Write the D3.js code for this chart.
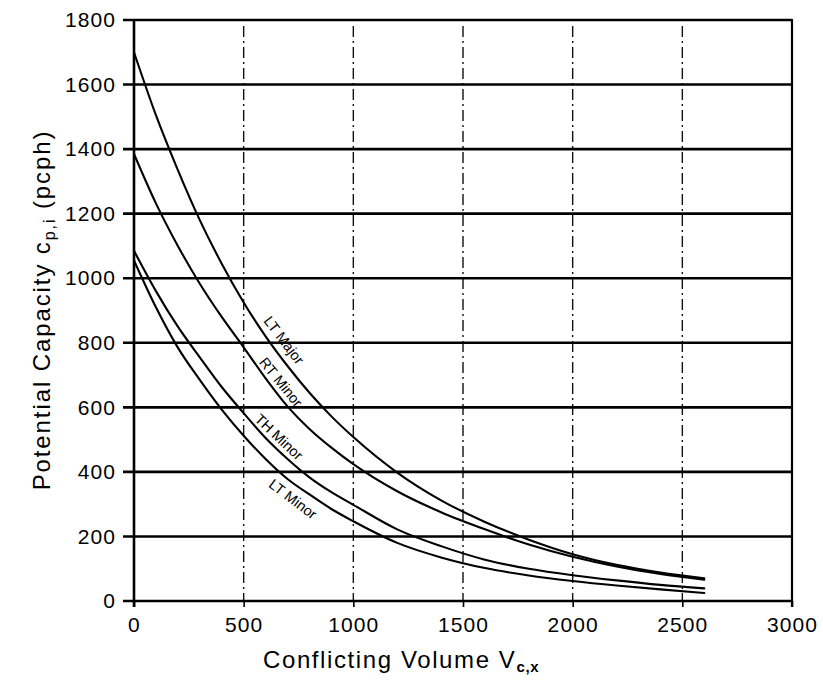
<!DOCTYPE html>
<html>
<head>
<meta charset="utf-8">
<script src="https://cdn.jsdelivr.net/npm/d3@7/dist/d3.min.js"></script>
<style>
  html, body { margin: 0; padding: 0; background: #fff; }
  svg { display: block; }
  text { font-family: "Liberation Sans", Arial, Helvetica, sans-serif; fill: #000; }
</style>
</head>
<body>
<svg id="chart" width="823" height="697"></svg>
<script>
// Conflicting volume (veh/h) at which each capacity curve is tabulated
const volumes = [0, 100, 200, 300, 400, 500, 600, 700, 800, 900, 1000,
                 1200, 1400, 1600, 1800, 2000, 2200, 2400, 2600];

// Potential capacity (pcph) for each movement
const ltMajor = [1700, 1505, 1335, 1180, 1045, 925, 820, 728, 645, 572, 508,
                 398, 312, 245, 190, 145, 112, 88, 70];
const rtMinor = [1385, 1232, 1100, 983, 880, 786, 690, 603, 533, 475, 424,
                 340, 275, 222, 175, 137, 107, 84, 66];
const thMinor = [1085, 960, 850, 755, 663, 582, 505, 440, 383, 337, 298,
                 222, 170, 128, 100, 80, 64, 50, 39];
const ltMinor = [1055, 910, 785, 685, 593, 512, 440, 378, 330, 285, 247,
                 180, 135, 102, 79, 62, 48, 36, 25];

const seriesNames = ["LT Major", "RT Minor", "TH Minor", "LT Minor"];
const seriesValues = [ltMajor, rtMinor, thMinor, ltMinor];

// Centre of each curve's name, in chart units (volume, capacity)
const labelAt = [
  { name: "LT Major", v: 684, c: 808 },
  { name: "RT Minor", v: 670, c: 678 },
  { name: "TH Minor", v: 661, c: 508 },
  { name: "LT Minor", v: 725, c: 316 }
];

const xTicks = [0, 500, 1000, 1500, 2000, 2500, 3000];
const yTicks = [0, 200, 400, 600, 800, 1000, 1200, 1400, 1600, 1800];

const svg = d3.select("#chart");
svg.append("rect").attr("width", 823).attr("height", 697).attr("fill", "#fff");

const x = d3.scaleLinear().domain([0, 3000]).range([134, 792]);
const y = d3.scaleLinear().domain([0, 1800]).range([601, 20]);

// vertical dash-dot grid lines
svg.append("g")
  .selectAll("line")
  .data(xTicks.filter(d => d > 0 && d < 3000))
  .join("line")
  .attr("x1", d => x(d)).attr("x2", d => x(d))
  .attr("y1", y(1800) + 6).attr("y2", y(0))
  .attr("stroke", "#111")
  .attr("stroke-width", 1.4)
  .attr("stroke-dasharray", "11,4,2,4");

// heavy horizontal grid lines
svg.append("g")
  .selectAll("line")
  .data(yTicks)
  .join("line")
  .attr("x1", x(0) - 11).attr("x2", x(3000))
  .attr("y1", d => y(d)).attr("y2", d => y(d))
  .attr("stroke", "#000")
  .attr("stroke-width", 2.6);

// frame: left axis and right border
svg.append("line")
  .attr("x1", x(0)).attr("x2", x(0))
  .attr("y1", y(1800) - 1).attr("y2", y(0) + 6)
  .attr("stroke", "#000").attr("stroke-width", 2.6);
svg.append("line")
  .attr("x1", x(3000)).attr("x2", x(3000))
  .attr("y1", y(1800) - 1).attr("y2", y(0) + 6)
  .attr("stroke", "#000").attr("stroke-width", 2.2);

// x axis ticks and labels
const xAxis = d3.axisBottom(x).tickValues(xTicks).tickSize(6).tickPadding(10)
  .tickFormat(d3.format("d"));
const gx = svg.append("g").attr("transform", `translate(0,${y(0)})`).call(xAxis);
gx.select(".domain").remove();
gx.selectAll(".tick line").attr("stroke", "#000").attr("stroke-width", 1.6);
gx.selectAll(".tick text")
  .attr("font-size", 21).attr("letter-spacing", 1.1)
  .attr("font-family", "Liberation Sans, Arial, sans-serif");

// y axis labels
const yAxis = d3.axisLeft(y).tickValues(yTicks).tickSize(0).tickPadding(18)
  .tickFormat(d3.format("d"));
const gy = svg.append("g").attr("transform", `translate(${x(0)},0)`).call(yAxis);
gy.select(".domain").remove();
gy.selectAll(".tick text")
  .attr("font-size", 21).attr("letter-spacing", 1.1)
  .attr("font-family", "Liberation Sans, Arial, sans-serif");

// capacity curves
const line = d3.line()
  .x(d => x(d[0]))
  .y(d => y(d[1]))
  .curve(d3.curveMonotoneX);

svg.append("g")
  .selectAll("path")
  .data(seriesValues)
  .join("path")
  .attr("d", vals => line(volumes.map((v, i) => [v, vals[i]])))
  .attr("fill", "none")
  .attr("stroke", "#000")
  .attr("stroke-width", 2.1)
  .attr("stroke-linecap", "round");

// curve names, rotated to follow the local slope of each curve
function valueAt(vals, v) {
  const i = d3.bisectRight(volumes, v) - 1;
  const j = Math.min(i + 1, volumes.length - 1);
  const t = (v - volumes[i]) / (volumes[j] - volumes[i] || 1);
  return vals[i] + t * (vals[j] - vals[i]);
}
labelAt.forEach(lab => {
  const vals = seriesValues[seriesNames.indexOf(lab.name)];
  const dx = x(lab.v + 50) - x(lab.v - 50);
  const dy = y(valueAt(vals, lab.v + 50)) - y(valueAt(vals, lab.v - 50));
  const ang = Math.atan2(dy, dx) * 180 / Math.PI;
  svg.append("text")
    .attr("transform", `translate(${x(lab.v)},${y(lab.c)}) rotate(${ang})`)
    .attr("text-anchor", "middle")
    .attr("dy", "0.35em")
    .attr("font-size", 14.5)
    .text(lab.name);
});

// axis titles
const xt = svg.append("text")
  .attr("x", 263).attr("y", 668)
  .attr("font-size", 24).attr("letter-spacing", 1.6);
xt.append("tspan").text("Conflicting Volume V");
xt.append("tspan").attr("font-size", 15).attr("font-weight", "bold")
  .attr("dy", 4).attr("letter-spacing", 0.6).text("c,x");

const yt = svg.append("text")
  .attr("transform", "translate(50,310) rotate(-90)")
  .attr("text-anchor", "middle")
  .attr("font-size", 24).attr("letter-spacing", 1.9);
yt.append("tspan").text("Potential Capacity c");
yt.append("tspan").attr("font-size", 16).attr("dy", 5).text("p,i");
yt.append("tspan").attr("dy", -5).text(" (pcph)");
</script>
</body>
</html>
